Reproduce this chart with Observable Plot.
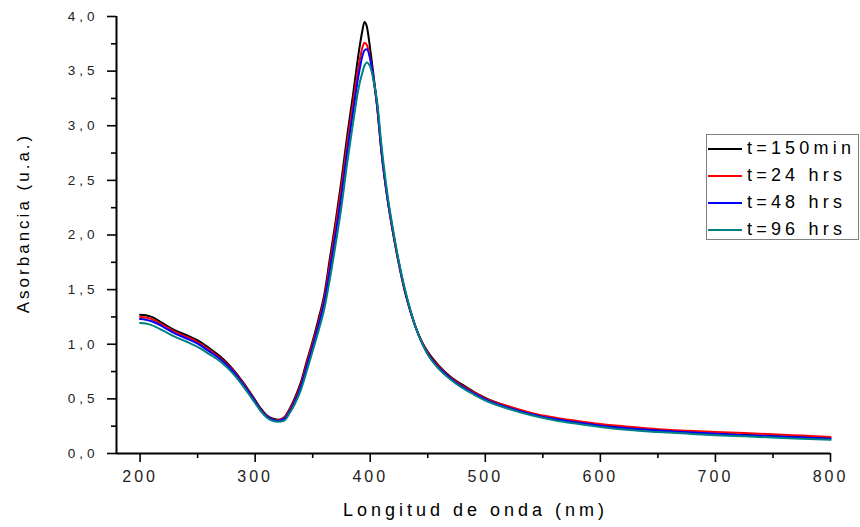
<!DOCTYPE html>
<html>
<head>
<meta charset="utf-8">
<script src="https://cdn.jsdelivr.net/npm/d3@7"></script>
<script src="https://cdn.jsdelivr.net/npm/@observablehq/plot@0.6"></script>
<style>
  body { margin: 0; background: #fff; }
  #wrap { position: relative; width: 860px; height: 527px; font-family: "Liberation Sans", Arial, sans-serif; }
  #wrap svg { position: absolute; left: 0; top: 0; }
  g[aria-label="y-axis tick label"] text { letter-spacing: 4px; }
  g[aria-label="x-axis tick label"] text { letter-spacing: 3px; }
  #legend { position: absolute; left: 706px; top: 134px; width: 151px; height: 104px; border: 1.5px solid #808080; background: #fff; }
  .lrow { position: absolute; left: 0; height: 20px; }
  .lline { position: absolute; left: 1px; width: 34px; height: 2px; top: 10px; }
  .ltext { position: absolute; left: 40px; top: 0; font-size: 18px; line-height: 21px; letter-spacing: 4.2px; color: #000; white-space: nowrap; }
</style>
</head>
<body>
<div id="wrap"></div>
<script>
// ---- data ----
const wavelengths = [200,205,210,220,230,240,250,260,270,280,290,300,305,310,315,320,325,330,335,340,345,350,355,360,365,370,375,380,385,390,393,395,397,400,403,406,410,415,420,425,430,435,440,445,450,460,470,480,490,500,520,540,560,580,600,625,650,675,700,725,750,775,800];

const abs150min = [1.27,1.265,1.25,1.19,1.13,1.085,1.035,0.965,0.885,0.78,0.645,0.49,0.41,0.35,0.32,0.31,0.33,0.41,0.52,0.66,0.85,1.03,1.23,1.45,1.79,2.13,2.50,2.91,3.28,3.67,3.86,3.95,3.91,3.70,3.45,3.18,2.74,2.33,2.01,1.73,1.49,1.30,1.14,1.02,0.93,0.80,0.70,0.63,0.565,0.51,0.43,0.365,0.32,0.285,0.255,0.23,0.21,0.195,0.18,0.17,0.16,0.15,0.143];
const abs24h = [1.25,1.245,1.23,1.175,1.115,1.07,1.02,0.95,0.87,0.77,0.635,0.48,0.40,0.345,0.315,0.305,0.325,0.40,0.505,0.64,0.83,1.01,1.20,1.42,1.74,2.08,2.44,2.84,3.20,3.55,3.71,3.76,3.74,3.62,3.42,3.17,2.74,2.33,2.01,1.73,1.49,1.30,1.14,1.02,0.92,0.79,0.69,0.62,0.56,0.505,0.432,0.372,0.33,0.298,0.27,0.245,0.222,0.208,0.197,0.187,0.176,0.164,0.152];
const abs48h = [1.23,1.225,1.21,1.16,1.10,1.055,1.005,0.935,0.86,0.76,0.625,0.475,0.395,0.34,0.31,0.30,0.315,0.385,0.485,0.62,0.80,0.98,1.17,1.38,1.68,2.01,2.36,2.76,3.12,3.47,3.63,3.69,3.70,3.61,3.42,3.19,2.75,2.34,2.02,1.74,1.50,1.30,1.14,1.01,0.91,0.78,0.685,0.61,0.55,0.495,0.42,0.36,0.315,0.283,0.255,0.23,0.21,0.195,0.18,0.168,0.157,0.146,0.135];
const abs96h = [1.195,1.19,1.175,1.125,1.07,1.025,0.975,0.91,0.84,0.74,0.61,0.46,0.385,0.33,0.30,0.29,0.30,0.37,0.465,0.59,0.76,0.94,1.12,1.32,1.60,1.92,2.26,2.66,3.02,3.35,3.48,3.55,3.58,3.54,3.41,3.22,2.80,2.37,2.04,1.75,1.51,1.31,1.14,1.01,0.905,0.77,0.675,0.60,0.54,0.485,0.41,0.35,0.305,0.272,0.243,0.215,0.197,0.182,0.168,0.157,0.146,0.135,0.125];

const seriesNames = ["t=150min", "t=24 hrs", "t=48 hrs", "t=96 hrs"];
const seriesColors = ["#000000", "#ff0000", "#0000ff", "#008080"];
const seriesValues = [abs150min, abs24h, abs48h, abs96h];

const xMajorTicks = [200, 300, 400, 500, 600, 700, 800];
const xMinorTicks = [250, 350, 450, 550, 650, 750];
const yMajorTicks = [0, 0.5, 1, 1.5, 2, 2.5, 3, 3.5, 4];
const yMinorTicks = [0.25, 0.75, 1.25, 1.75, 2.25, 2.75, 3.25, 3.75];

const xTitle = "Longitud de onda (nm)";
const yTitle = "Asorbancia (u.a.)";

// ---- long table for Plot ----
const rows = [];
seriesNames.forEach((name, si) => {
  wavelengths.forEach((wl, i) => rows.push({s: name, wl, a: seriesValues[si][i]}));
});

const fmtY = d => d.toFixed(1).replace(".", ",");
const xMin = 179.5;

const chart = Plot.plot({
  width: 860,
  height: 527,
  marginLeft: 116,
  marginRight: 30,
  marginTop: 16,
  marginBottom: 74,
  style: {fontFamily: '"Liberation Sans", Arial, sans-serif', background: "transparent", color: "#000"},
  x: {domain: [xMin, 800], label: null},
  y: {domain: [0, 4], label: null},
  color: {domain: seriesNames, range: seriesColors},
  marks: [
    Plot.line(rows, {x: "wl", y: "a", z: "s", stroke: "s", strokeWidth: 2, curve: "monotone-x"}),
    Plot.ruleX([xMin], {strokeWidth: 2, stroke: "#000"}),
    Plot.ruleY([0], {strokeWidth: 2, stroke: "#000"}),
    Plot.axisX(xMajorTicks, {tickSize: 9, tickPadding: 8, fontSize: 16, fill: "#222", stroke: "#000", strokeWidth: 1.6, tickFormat: d => String(d), label: null}),
    Plot.axisX(xMinorTicks, {tickSize: 5, stroke: "#000", strokeWidth: 1.6, tickFormat: () => "", label: null}),
    Plot.axisY(yMajorTicks, {tickSize: 9, tickPadding: 9, fontSize: 13.5, fill: "#222", stroke: "#000", strokeWidth: 1.6, tickFormat: fmtY, label: null}),
    Plot.axisY(yMinorTicks, {tickSize: 5, stroke: "#000", strokeWidth: 1.6, tickFormat: () => "", label: null}),
    Plot.text([xTitle], {text: d => d, frameAnchor: "bottom", textAnchor: "middle", lineAnchor: "middle", dy: 57, dx: 2, fontSize: 18, fill: "#000"}),
    Plot.text([yTitle], {text: d => d, frameAnchor: "left", textAnchor: "middle", lineAnchor: "middle", dx: -93, dy: -12, rotate: -90, fontSize: 17, fill: "#000"})
  ]
});

const wrap = document.getElementById("wrap");
wrap.appendChild(chart);

// letter spacing for the titles (Origin-style spaced type)
d3.select(chart).selectAll("text")
  .filter(function() { return this.textContent === xTitle; })
  .style("letter-spacing", "4px");
d3.select(chart).selectAll("text")
  .filter(function() { return this.textContent === yTitle; })
  .style("letter-spacing", "3px");

// legend
const legend = document.createElement("div");
legend.id = "legend";
const rowTops = [3, 30, 57, 84];
seriesNames.forEach((name, i) => {
  const r = document.createElement("div");
  r.className = "lrow";
  r.style.top = rowTops[i] + "px";
  const ln = document.createElement("div");
  ln.className = "lline";
  ln.style.background = seriesColors[i];
  const tx = document.createElement("div");
  tx.className = "ltext";
  tx.textContent = name;
  r.appendChild(ln);
  r.appendChild(tx);
  legend.appendChild(r);
});
wrap.appendChild(legend);
</script>
</body>
</html>
